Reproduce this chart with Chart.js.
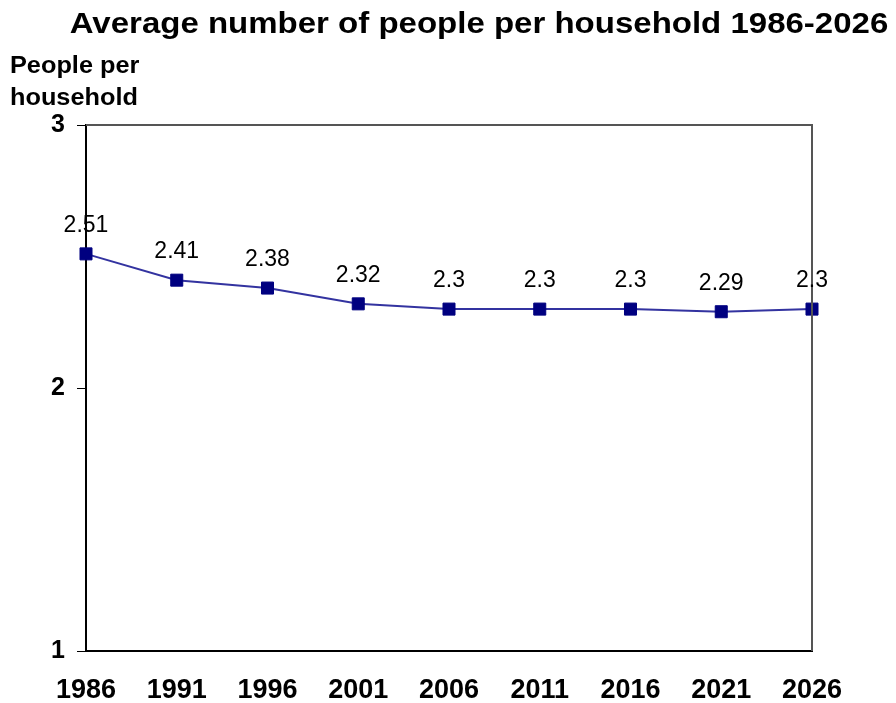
<!DOCTYPE html>
<html>
<head>
<meta charset="utf-8">
<script src="https://cdn.jsdelivr.net/npm/chart.js@4/dist/chart.umd.min.js"></script>
<style>
html,body{margin:0;padding:0;background:#fff;}
#wrap{width:896px;height:703px;position:relative;}
</style>
</head>
<body>
<div id="wrap"><canvas id="c" width="896" height="703"></canvas></div>
<script>
const years = ['1986','1991','1996','2001','2006','2011','2016','2021','2026'];
const peoplePerHousehold = [2.51, 2.41, 2.38, 2.32, 2.3, 2.3, 2.3, 2.29, 2.3];
const yTicks = [1, 2, 3];
const titleText = 'Average number of people per household 1986-2026';
const yAxisLabel = ['People per', 'household'];

const FONT = '"Liberation Sans", Arial, sans-serif';

function stretchText(ctx, text, x, y, align, sx) {
  ctx.save();
  ctx.translate(x, y);
  ctx.scale(sx, 1);
  ctx.textAlign = align;
  ctx.fillText(text, 0, 0);
  ctx.restore();
}

const decor = {
  id: 'decor',
  afterDraw(chart) {
    const ctx = chart.ctx;
    const a = chart.chartArea;
    ctx.save();
    ctx.fillStyle = '#000';
    ctx.textBaseline = 'alphabetic';
    // title
    ctx.font = 'bold 30px ' + FONT;
    stretchText(ctx, titleText, 479, 33, 'center', 1.1);
    // y label
    ctx.font = 'bold 23px ' + FONT;
    stretchText(ctx, yAxisLabel[0], 10, 73, 'left', 1.1);
    stretchText(ctx, yAxisLabel[1], 10, 105, 'left', 1.1);
    // top/right border
    ctx.strokeStyle = '#555';
    ctx.lineWidth = 2;
    ctx.beginPath();
    ctx.moveTo(a.left, a.top);
    ctx.lineTo(a.right, a.top);
    ctx.lineTo(a.right, a.bottom);
    ctx.stroke();
    // data labels
    const meta = chart.getDatasetMeta(0);
    ctx.font = '23px ' + FONT;
    meta.data.forEach((p, i) => {
      stretchText(ctx, String(peoplePerHousehold[i]), p.x, p.y - 22, 'center', 1.0);
    });
    ctx.restore();
  }
};

new Chart(document.getElementById('c'), {
  type: 'line',
  data: {
    labels: years,
    datasets: [{
      data: peoplePerHousehold,
      borderColor: '#3333a0',
      borderWidth: 2,
      pointStyle: 'rect',
      pointRadius: 8.5,
      pointBackgroundColor: '#000080',
      pointBorderColor: '#000080',
      pointBorderWidth: 1,
      tension: 0,
      clip: false
    }]
  },
  options: {
    responsive: false,
    animation: false,
    events: [],
    layout: { padding: { top: 125, right: 84, left: 0, bottom: 0 } },
    plugins: { legend: { display: false }, tooltip: { enabled: false }, title: { display: false } },
    scales: {
      x: {
        offset: false,
        grid: { display: false, drawTicks: false },
        border: { color: '#000', width: 2 },
        ticks: { color: '#000', font: { family: FONT, size: 27, weight: 'bold' }, padding: 23, maxRotation: 0, autoSkip: false },
        afterFit(s) { s.height = 52; }
      },
      y: {
        min: 1, max: 3,
        afterBuildTicks(s) { s.ticks = yTicks.map(v => ({ value: v })); },
        grid: { drawOnChartArea: false, drawTicks: true, tickLength: 9, color: '#000', lineWidth: 1 },
        border: { color: '#000', width: 2 },
        ticks: { color: '#000', font: { family: FONT, size: 25, weight: 'bold' }, padding: 12 },
        afterFit(s) { s.width = 86; }
      }
    }
  },
  plugins: [decor]
});
</script>
</body>
</html>
